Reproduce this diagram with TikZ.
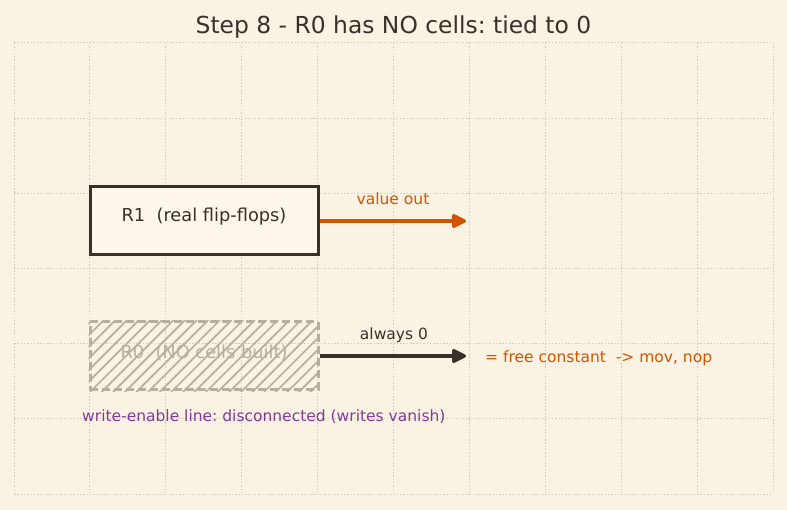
\documentclass[tikz,border=0pt]{standalone}
\usepackage{fontspec}
\setmainfont{DejaVu Sans}
\usetikzlibrary{arrows.meta}
\definecolor{bg}{HTML}{FAF3E3}
\definecolor{gridc}{HTML}{D6C9B5}
\definecolor{dark}{HTML}{3B2F2A}
\definecolor{boxfill}{HTML}{FDF7EC}
\definecolor{ghost}{HTML}{B8AE9F}
\definecolor{orng}{HTML}{D35400}
\definecolor{purp}{HTML}{7D3C98}
\tikzset{
  gridline/.style={draw=gridc, line width=1pt, dash pattern=on 1.5pt off 1.8pt},
  regbox/.style={rectangle, minimum width=228pt, minimum height=68pt, line width=3pt, inner sep=0pt},
  boxtext/.style={font=\fontsize{17.8}{21}\selectfont, inner sep=0pt},
  lab/.style={font=\fontsize{15.5}{18}\selectfont, inner sep=0pt},
  hatch/.style={draw=ghost, line width=1.7pt},
  flow/.style={line width=3.2pt, -{Triangle[length=16pt,width=15pt,round]}}
}
\begin{document}
\frenchspacing
\begin{tikzpicture}[x=1pt,y=-1pt]
\fill[bg] (0,0) rectangle (787,510);
\useasboundingbox (0,0) rectangle (787,510);
\foreach \i in {0,...,10} \draw[gridline] ({14+75.9*\i},43) -- ({14+75.9*\i},494);
\foreach \j in {0,...,6} \draw[gridline] (14,{43+75.17*\j}) -- (773,{43+75.17*\j});
\node[font=\fontsize{23.4}{27}\selectfont, text=dark, inner sep=0pt] (title) at (393.5,27) {Step 8 - R0 has NO cells: tied to 0};
% R1
\node[regbox, draw=dark, fill=boxfill] (r1) at (204,221) {};
\node[boxtext, text=dark] (r1t) at (204,217) {R1\ \ (real flip-flops)};
\coordinate (r1end) at (466,221);
\draw[flow, draw=orng, fill=orng] (r1.east) -- (r1end);
\node[lab, text=orng] (vo) at (393,199) {value out};
% R0
\node[regbox] (r0) at (204,356) {};
\begin{scope}
\clip (r0.south west) rectangle (r0.north east);
\foreach \k in {-8,...,22} \draw[hatch] ({90+11.6*\k},392) -- ++(72,-72);
\end{scope}
\node[regbox, draw=ghost, dashed, dash pattern=on 8pt off 4pt] (r0b) at (204,356) {};
\node[boxtext, text=ghost] (r0t) at (204,353) {R0\ \ (NO cells built)};
\coordinate (r0end) at (466,356);
\draw[flow, draw=dark, fill=dark] (r0.east) -- (r0end);
\node[lab, text=dark] (a0) at (394,335) {always 0};
\node[lab, text=orng, anchor=west] (fc) at (485,358) {= free constant\ \ -> mov, nop};
\node[lab, text=purp, anchor=west] (we) at (82,417) {write-enable line: disconnected (writes vanish)};
\end{tikzpicture}
\end{document}
